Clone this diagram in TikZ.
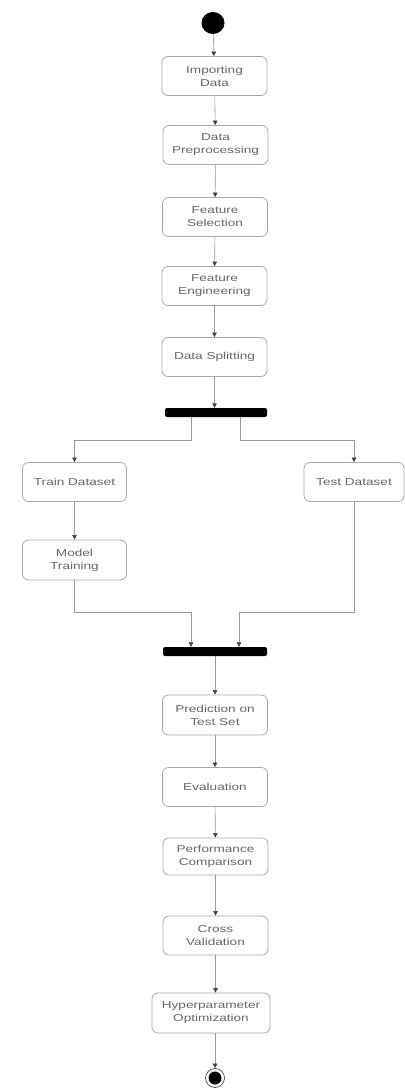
\documentclass[tikz,border=0pt]{standalone}
\usepackage{fontspec}
\setmainfont{Liberation Sans}[FakeStretch=1.36]
\usetikzlibrary{arrows.meta,shapes.geometric}
\definecolor{txt}{HTML}{666666}
\definecolor{brd}{HTML}{AAAAAA}
\definecolor{lin}{HTML}{999999}
\begin{document}
\begin{tikzpicture}[x=1pt,y=-1pt,
  act/.style={draw=brd,line width=0.8pt,rounded corners=6pt,minimum width=105pt,minimum height=39pt,
    align=center,text=txt,font=\fontsize{10}{13}\selectfont,inner sep=1pt},
  bar/.style={fill=black,rounded corners=2pt,minimum width=102pt,minimum height=9pt,inner sep=0pt},
  arr/.style={draw=lin,line width=0.6pt,-{Triangle[length=4.5pt,width=4.5pt,fill=black!75,color=black!75]}}]
\useasboundingbox (0,0) rectangle (404,1091);
\node[ellipse,fill=black,minimum width=23pt,minimum height=22pt,inner sep=0pt] (start) at (213,23) {};
\node[act] (imp) at (214.5,76) {Importing\\Data};
\node[act] (pre) at (215.5,145) {Data\\Preprocessing};
\node[act] (sel) at (215,217) {Feature\\Selection};
\node[act] (eng) at (214.5,286) {Feature\\Engineering};
\node[act] (spl) at (214.5,357) {Data Splitting};
\node[bar] (fork) at (216,412.5) {};
\node[act,minimum width=104pt] (train) at (74.5,482) {Train Dataset};
\node[act,minimum width=100pt] (test) at (354,482) {Test Dataset};
\node[act,minimum width=104pt,minimum height=40pt] (model) at (74.5,560) {Model\\Training};
\node[bar,minimum width=104pt] (join) at (215,651.5) {};
\node[act,minimum height=40pt] (pred) at (215,715) {Prediction on\\Test Set};
\node[act] (eval) at (215,787) {Evaluation};
\node[act,minimum height=37pt] (perf) at (215.5,856.5) {Performance\\Comparison};
\node[act] (cross) at (215.5,935.5) {Cross\\Validation};
\node[act,minimum width=118pt,minimum height=40pt] (hyp) at (211,1013) {Hyperparameter\\Optimization};
\node[circle,draw=black!70,line width=0.7pt,minimum size=19pt,inner sep=0pt] (end) at (215,1078) {};
\node[circle,fill=black,minimum size=13pt,inner sep=0pt] (endin) at (end) {};
\draw[arr] (start) -- (imp);
\draw[arr] (imp) -- (pre);
\draw[arr] (pre) -- (sel);
\draw[arr] (sel) -- (eng);
\draw[arr] (eng) -- (spl);
\draw[arr] (spl.south) -- (spl.south |- fork.north);
\draw[arr] ([xshift=-25pt]fork.south) -- ++(0,23) -| (train.north);
\draw[arr] ([xshift=24pt]fork.south) -- ++(0,23) -| (test.north);
\draw[arr] (train) -- (model);
\draw[arr] (model.south) -- ++(0,31.5) -| ([xshift=-24pt]join.north);
\draw[arr] (test.south) -- ++(0,110) -| ([xshift=24pt]join.north);
\draw[arr] (join.south -| pred.north) -- (pred.north);
\draw[arr] (pred) -- (eval);
\draw[arr] (eval) -- (perf);
\draw[arr] (perf) -- (cross);
\draw[arr] (cross.south) -- (cross.south |- hyp.north);
\draw[arr] (hyp.south -| end.north) -- (end.north);
\end{tikzpicture}
\end{document}
